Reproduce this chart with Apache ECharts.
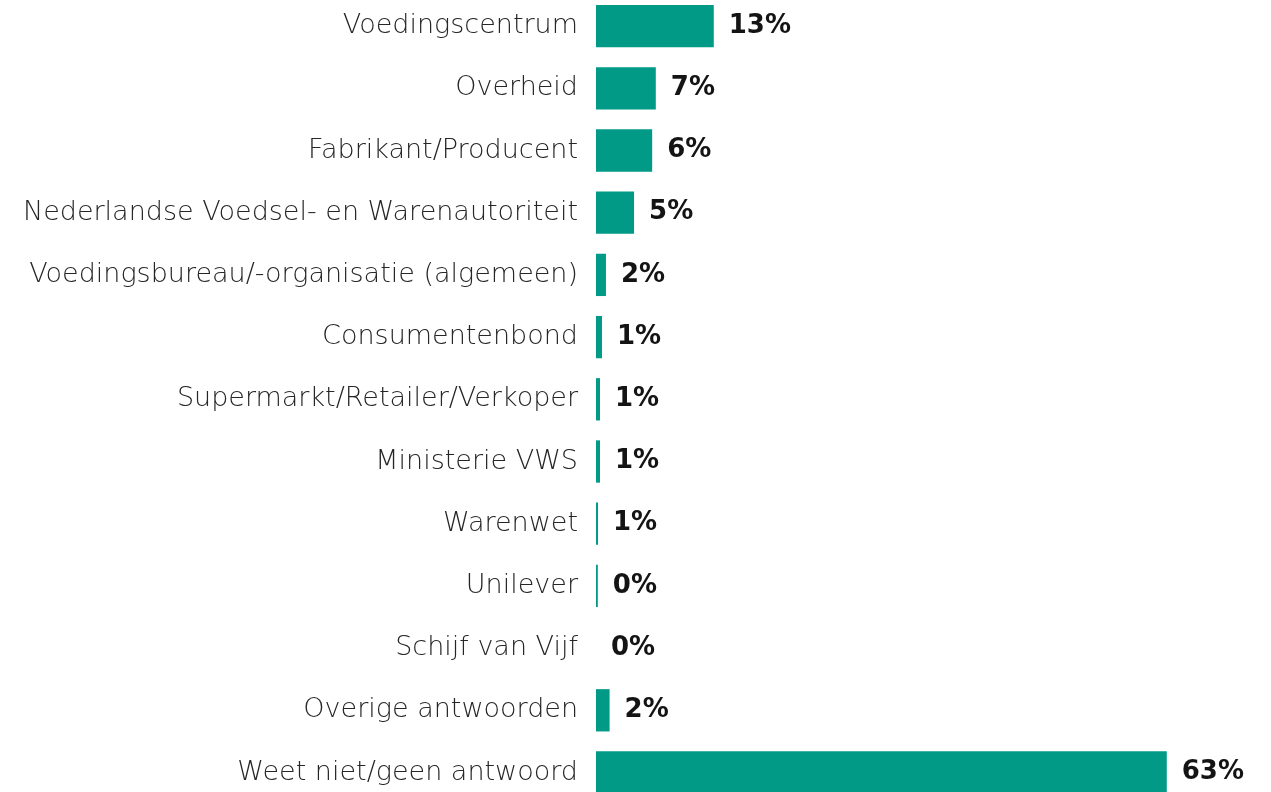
<!DOCTYPE html>
<html>
<head>
<meta charset="utf-8">
<script src="https://cdn.jsdelivr.net/npm/echarts@6/dist/echarts.min.js"></script>
<style>
html,body{margin:0;padding:0;background:#fff;}
#c{width:1271px;height:792px;}
</style>
</head>
<body>
<div id="c"></div>
<script>
const categories = [
  "Voedingscentrum",
  "Overheid",
  "Fabrikant/Producent",
  "Nederlandse Voedsel- en Warenautoriteit",
  "Voedingsbureau/-organisatie (algemeen)",
  "Consumentenbond",
  "Supermarkt/Retailer/Verkoper",
  "Ministerie VWS",
  "Warenwet",
  "Unilever",
  "Schijf van Vijf",
  "Overige antwoorden",
  "Weet niet/geen antwoord"
];
const values = [13.0, 6.6, 6.2, 4.2, 1.1, 0.66, 0.44, 0.44, 0.22, 0.2, 0, 1.5, 63.0];
const valueLabels = ["13%", "7%", "6%", "5%", "2%", "1%", "1%", "1%", "1%", "0%", "0%", "2%", "63%"];

const chart = echarts.init(document.getElementById('c'), null, {renderer: 'canvas'});
chart.setOption({
  animation: false,
  grid: {left: 596, top: -5, width: 634.2, height: 808.6, containLabel: false, outerBoundsMode: 'none'},
  xAxis: {
    type: 'value', min: 0, max: 70, show: false
  },
  yAxis: {
    type: 'category',
    data: categories,
    inverse: true,
    axisLine: {show: false},
    axisTick: {show: false},
    splitLine: {show: false},
    axisLabel: {
      margin: 18,
      color: '#262626',
      fontFamily: '"DejaVu Sans", sans-serif',
      fontWeight: 300,
      fontSize: 27
    }
  },
  series: [{
    type: 'bar',
    data: values,
    barWidth: '68%',
    itemStyle: {color: '#009a87'},
    label: {
      show: true,
      position: 'right',
      distance: 15,
      color: '#141414',
      fontFamily: '"DejaVu Sans", sans-serif',
      fontWeight: 'bold',
      fontSize: 26,
      formatter: p => valueLabels[p.dataIndex]
    }
  }]
});
</script>
</body>
</html>
